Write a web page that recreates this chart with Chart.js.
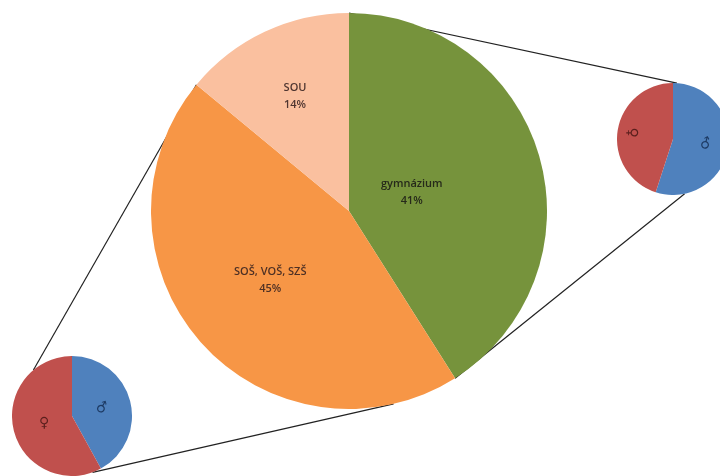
<!DOCTYPE html>
<html lang="cs">
<head>
  <meta charset="UTF-8" />
  <title>Typ školy a pohlaví</title>
  <script src="https://cdn.jsdelivr.net/npm/chart.js"></script>
  <style>
    html, body {
      margin: 0;
      padding: 0;
      background: #fff;
      overflow: hidden;
    }
    #wrap {
      position: relative;
      width: 720px;
      height: 476px;
      overflow: hidden;
    }
    #lines { position: absolute; left: 0; top: 0; z-index: 0; }
    .box { position: absolute; z-index: 1; }
  </style>
</head>
<body>
  <div id="wrap">
    <canvas id="lines" width="720" height="476"></canvas>
    <div class="box" style="left:151px;top:13px;width:396px;height:396px">
      <canvas id="bigPie"></canvas>
    </div>
    <div class="box" style="left:617px;top:83px;width:112px;height:112px">
      <canvas id="rightPie"></canvas>
    </div>
    <div class="box" style="left:12px;top:356px;width:120px;height:120px">
      <canvas id="leftPie"></canvas>
    </div>
  </div>

  <script>
    // school types (big pie), in percent
    const schoolLabels = ["gymnázium", "SOŠ, VOŠ, SZŠ", "SOU"];
    const schoolValues = [41, 45, 14];

    // gender split shown in the two small pies
    const genderLabels = ["♂", "♀"];
    const gymGender = [55, 45];     // right pie
    const sosGender = [42, 58];     // bottom-left pie

    const schoolColors = ["#76933c", "#f79646", "#fac09f"];
    const genderColors = ["#4f81bd", "#c0504d"];

    // labels drawn inside slices at a fraction of the radius
    const sliceLabelPlugin = {
      id: "sliceLabels",
      afterDatasetsDraw(chart, args, opts) {
        const ctx = chart.ctx;
        const arcs = chart.getDatasetMeta(0).data;
        ctx.save();
        ctx.textAlign = "center";
        ctx.textBaseline = "middle";
        arcs.forEach((arc, i) => {
          const mid = (arc.startAngle + arc.endAngle) / 2;
          const r = arc.outerRadius * opts.radii[i];
          const x = arc.x + Math.cos(mid) * r;
          const y = arc.y + Math.sin(mid) * r;
          const lines = opts.texts[i];
          ctx.save();
          ctx.translate(x, y);
          ctx.rotate((opts.rotate ? opts.rotate[i] : 0) * Math.PI / 180);
          ctx.fillStyle = opts.colors ? opts.colors[i] : "#3f3535";
          ctx.font = opts.font;
          const lh = opts.lineHeight || 16;
          lines.forEach((t, k) => {
            ctx.fillText(t, 0, (k - (lines.length - 1) / 2) * lh);
          });
          ctx.restore();
        });
        ctx.restore();
      }
    };

    function pie(id, labels, values, colors, labelOpts) {
      return new Chart(document.getElementById(id), {
        type: "pie",
        data: {
          labels: labels,
          datasets: [{
            data: values,
            backgroundColor: colors,
            borderWidth: 0,
            hoverOffset: 0,
            offset: 0
          }]
        },
        options: {
          responsive: true,
          maintainAspectRatio: false,
          animation: false,
          layout: { padding: 0 },
          plugins: {
            legend: { display: false },
            tooltip: { enabled: false },
            sliceLabels: labelOpts
          }
        },
        plugins: [sliceLabelPlugin]
      });
    }

    const big = pie("bigPie", schoolLabels, schoolValues, schoolColors, {
      radii: [0.33, 0.53, 0.64],
      texts: schoolValues.map((v, i) => [schoolLabels[i], v + "%"]),
      font: "600 11px 'Open Sans', sans-serif",
      lineHeight: 17,
      colors: ["#26291a", "#4e3024", "#4e3530"]
    });

    const right = pie("rightPie", genderLabels, gymGender, genderColors, {
      radii: [0.6, 0.74],
      texts: genderLabels.map(t => [t]),
      rotate: [-30, 90],
      font: "14px 'DejaVu Sans', sans-serif",
      colors: ["#1d3a63", "#5a1f1d"]
    });

    const left = pie("leftPie", genderLabels, sosGender, genderColors, {
      radii: [0.52, 0.48],
      texts: genderLabels.map(t => [t]),
      rotate: [-15, 0],
      font: "14px 'DejaVu Sans', sans-serif",
      colors: ["#1d3a63", "#5a1f1d"]
    });

    // connector lines between the big pie and the small pies
    // pairs of angles (degrees clockwise from top) on big pie / small pie
    function edgePoint(chart, deg) {
      const arc = chart.getDatasetMeta(0).data[0];
      const box = chart.canvas.parentNode;
      const a = (deg - 90) * Math.PI / 180;
      return [
        box.offsetLeft + arc.x + Math.cos(a) * arc.outerRadius,
        box.offsetTop + arc.y + Math.sin(a) * arc.outerRadius
      ];
    }

    const gymEnd = schoolValues[0] / 100 * 360;
    const sosEnd = (schoolValues[0] + schoolValues[1]) / 100 * 360;
    const connectors = [
      [right, 0, 4],
      [right, gymEnd, 168],
      [left, sosEnd, 320],
      [left, 167, 160]
    ];

    const lctx = document.getElementById("lines").getContext("2d");
    lctx.strokeStyle = "#222";
    lctx.lineWidth = 1.2;
    connectors.forEach(([small, a1, a2]) => {
      const p = edgePoint(big, a1);
      const q = edgePoint(small, a2);
      lctx.beginPath();
      lctx.moveTo(p[0], p[1]);
      lctx.lineTo(q[0], q[1]);
      lctx.stroke();
    });
  </script>
</body>
</html>
